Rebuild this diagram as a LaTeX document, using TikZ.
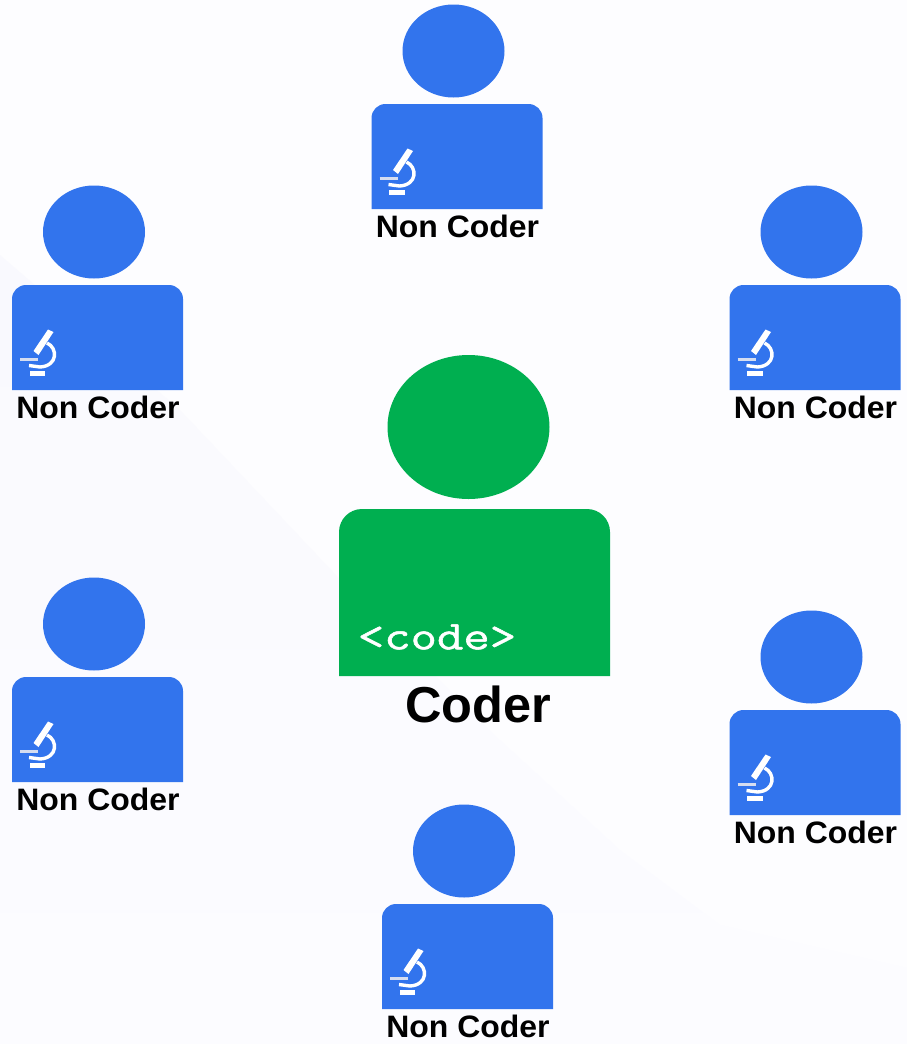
\documentclass[tikz,border=0pt]{standalone}
\usepackage{fontspec}
\setmainfont{Liberation Sans}
\newfontfamily\codefont[RawFeature={embolden=1.2}]{Latin Modern Mono}
\definecolor{bluefig}{HTML}{3274ED}
\definecolor{greenfig}{HTML}{00AF50}
\definecolor{bgtop}{HTML}{FDFDFF}
\definecolor{bglow}{HTML}{F9F9FE}
\definecolor{bgfade}{HTML}{FCFCFF}
\definecolor{stagecol}{HTML}{D5DDF0}
\tikzset{
  lbl/.style={inner sep=0pt,font=\bfseries\fontsize{31}{31}\selectfont,text=black,anchor=center,xscale=1.03},
  biglbl/.style={inner sep=0pt,font=\bfseries\fontsize{50.5}{50}\selectfont,text=black,anchor=center},
  codelbl/.style={inner sep=0pt,font=\codefont\fontsize{41}{41}\selectfont,text=white,anchor=center,xscale=1.25},
  scopestroke/.style={draw=white,line cap=butt,fill=none}
}
\newcommand{\nonCoder}[3]{%
  \begin{scope}[shift={(#1,#2)}]
    \fill[bluefig] (82,-53) ellipse [x radius=51pt,y radius=46.5pt];
    \fill[bluefig] (0,105) [rounded corners=14pt] -- (0,0) -- (171,0) [sharp corners] -- (171,105) -- cycle;
    \fill[white] (17.5,86) rectangle (33,91);
    \fill[white] (36,44.5) -- (41.5,47) -- (26.5,70) -- (21.5,66) -- cycle;
    \draw[scopestroke,line width=3.4pt] (35,58) .. controls (46,63) and (46,81) .. (28,82) -- (17,80.5);
    \draw[stagecol,line width=2.4pt] (8,74.5) -- (26,74.5);
    \node[lbl] (#3) at (86,122) {Non Coder};
  \end{scope}%
}
\begin{document}
\begin{tikzpicture}[x=1pt,y=-1pt]
  \useasboundingbox (0,0) rectangle (907,1044);
  \fill[bgtop] (0,0) rectangle (907,1044);
  \shade[top color=bglow,bottom color=bgfade] (0,255) -- (180,410) -- (350,590) -- (500,740) -- (620,850) -- (720,925) -- (907,968) -- (907,1044) -- (0,1044) -- cycle;
  \nonCoder{371.5}{104}{nctop}
  \nonCoder{12}{285}{ncleftup}
  \nonCoder{729.5}{285}{ncrightup}
  \nonCoder{12}{677}{ncleftlow}
  \nonCoder{729.5}{710}{ncrightlow}
  \nonCoder{382}{904}{ncbottom}
  \fill[greenfig] (468.5,427) ellipse [x radius=81pt,y radius=72pt];
  \fill[greenfig] (339,676) [rounded corners=23pt] -- (339,509) -- (610,509) [sharp corners] -- (610,676) -- cycle;
  \node[codelbl] (codetag) at (437,637) {<code>};
  \node[biglbl] (coder) at (478,704) {Coder};
\end{tikzpicture}
\end{document}
